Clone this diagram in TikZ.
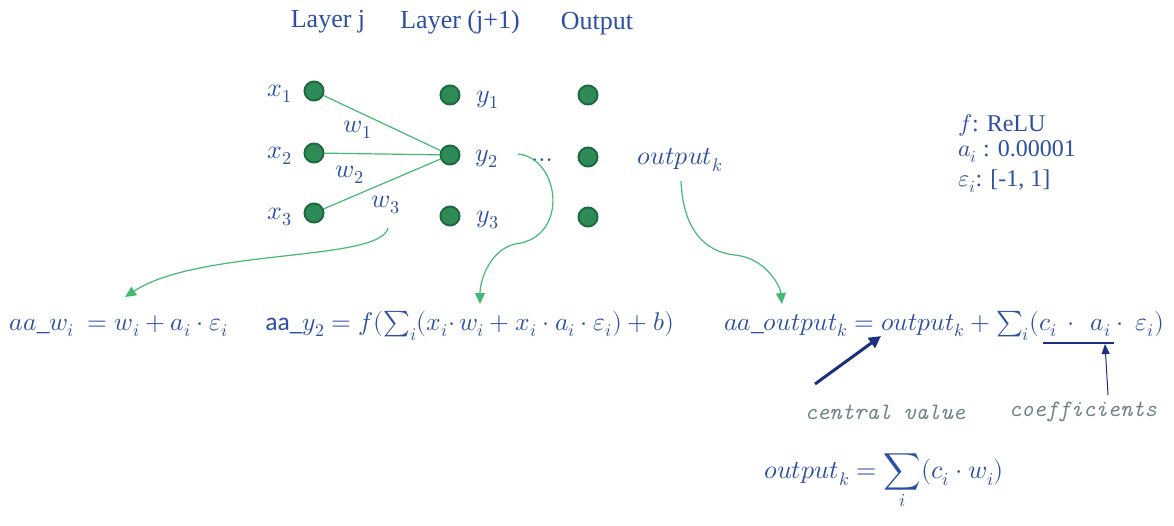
\documentclass[tikz,border=0pt]{standalone}
\usepackage{fontspec}
\usepackage{unicode-math}
\setmainfont{Liberation Serif}
\setmathfont{Latin Modern Math}
\newfontfamily\calib{Carlito}
\newfontfamily\monoit{Latin Modern Mono}
\usetikzlibrary{arrows.meta}
\definecolor{txtblue}{HTML}{2C4FA3}
\definecolor{nodegreen}{HTML}{2E8B57}
\definecolor{nodeedge}{HTML}{1E6A40}
\definecolor{linegreen}{HTML}{45B873}
\definecolor{navy}{HTML}{1C2F80}
\definecolor{gtxt}{HTML}{6F8585}
\begin{document}
\begin{tikzpicture}[x=1pt,y=-1pt,
  neuron/.style={circle,fill=nodegreen,draw=nodeedge,line width=2pt,minimum size=19pt,inner sep=0pt},
  lbl/.style={text=txtblue,font=\fontsize{26}{30}\selectfont,inner sep=0pt},
  leg/.style={text=txtblue,font=\fontsize{24}{28}\selectfont,inner sep=0pt},
  hdr/.style={text=txtblue,font=\fontsize{26}{30}\selectfont,inner sep=0pt},
  eq/.style={text=txtblue,font=\fontsize{25.5}{30}\selectfont,inner sep=0pt},
  gray/.style={text=gtxt,font=\fontsize{23.5}{28}\monoit\itshape,inner sep=0pt},
  link/.style={linegreen,line width=1.2pt},
  curv/.style={linegreen,line width=1.2pt,-{Triangle[length=11pt,width=10pt]}}
  ]
\useasboundingbox (0,0) rectangle (1174,525);
% headers
\node[hdr] (h1) at (328,22) {Layer j};
\node[hdr] (h2) at (460,22) {Layer (j+1)};
\node[hdr] (h3) at (597,24) {Output};
% neurons
\node[neuron] (x1) at (314,91) {};
\node[neuron] (x2) at (314,153) {};
\node[neuron] (x3) at (314,213) {};
\node[neuron] (y1) at (450,95) {};
\node[neuron] (y2) at (450,155) {};
\node[neuron] (y3) at (450,216) {};
\node[neuron] (o1) at (588,95) {};
\node[neuron] (o2) at (588,157) {};
\node[neuron] (o3) at (588,217) {};
% labels
\node[lbl] (lx1) at (280,94) {$x_1$};
\node[lbl] (lx2) at (280,156) {$x_2$};
\node[lbl] (lx3) at (280,217) {$x_3$};
\node[lbl] (ly1) at (488,100) {$y_1$};
\node[lbl] (ly2) at (487,159) {$y_2$};
\node[lbl] (ly3) at (488,220) {$y_3$};
\node[lbl] (lw1) at (358,130) {$w_1$};
\node[lbl] (lw2) at (350,175) {$w_2$};
\node[lbl] (lw3) at (386,205) {$w_3$};
\node[lbl] (dots) at (542,160) {$\ldots$};
\node[lbl] (outk) at (680,160) {$output_k$};
% legend
\node[leg,anchor=west] (lg1) at (958,125) {$f$: ReLU};
\node[leg,anchor=west] (lg2) at (958,152) {$a_i$ : 0.00001};
\node[leg,anchor=west] (lg3) at (958,181) {$\varepsilon_i$: [-1, 1]};
% connections
\draw[link] (x1) -- (y2);
\draw[link] (x2) -- (y2);
\draw[link] (x3) -- (y2);
% equations
\node[eq] (eqw) at (119,326) {$aa\_w_i\ = w_i + a_i \cdot \varepsilon_i$};
\node[eq] (eqy) at (470,326) {{\calib aa\_}$y_2 = f(\sum_i(x_i{\cdot}\, w_i + x_i \cdot a_i \cdot \varepsilon_i) + b)$};
\node[eq] (eqo) at (944,326) {$aa\_output_k = output_k + \sum_i(c_i\,\cdot\,\ a_i\cdot\ \varepsilon_i)$};
\node[eq,font=\fontsize{26}{30}\selectfont] (eqb) at (884,482) {$output_k = \displaystyle\sum_i (c_i\cdot w_i)$};
% curved arrows
\coordinate (s1) at (388,228);
\coordinate (e1) at (125,297);
\draw[curv] (s1) .. controls (380,262) and (200,248) .. (e1);
\coordinate (s2) at (518,154);
\coordinate (m2) at (515,244);
\coordinate (e2) at (480,304);
\draw[curv] (s2) .. controls (560,158) and (570,238) .. (m2) .. controls (490,250) and (480,280) .. (e2);
\coordinate (s3) at (681,181);
\coordinate (m3) at (735,255);
\coordinate (e3) at (782,304);
\draw[curv] (s3) .. controls (683,230) and (705,252) .. (m3) .. controls (765,258) and (780,285) .. (e3);
% annotations
\node[gray] (cv) at (885,412) {central value};
\node[gray] (cf) at (1083,412) {coefficients};
\coordinate (ul1) at (1043,343);
\coordinate (ul2) at (1114,343);
\draw[navy,line width=1.5pt] (ul1) -- (ul2);
\coordinate (a1s) at (815,384);
\coordinate (a1e) at (881,336);
\draw[navy,line width=3pt,-{Triangle[length=12pt,width=12pt]}] (a1s) -- (a1e);
\coordinate (a2s) at (1108,395);
\coordinate (a2e) at (1105,344);
\draw[navy,line width=1pt,-{Triangle[length=10pt,width=8pt]}] (a2s) -- (a2e);
\end{tikzpicture}
\end{document}
